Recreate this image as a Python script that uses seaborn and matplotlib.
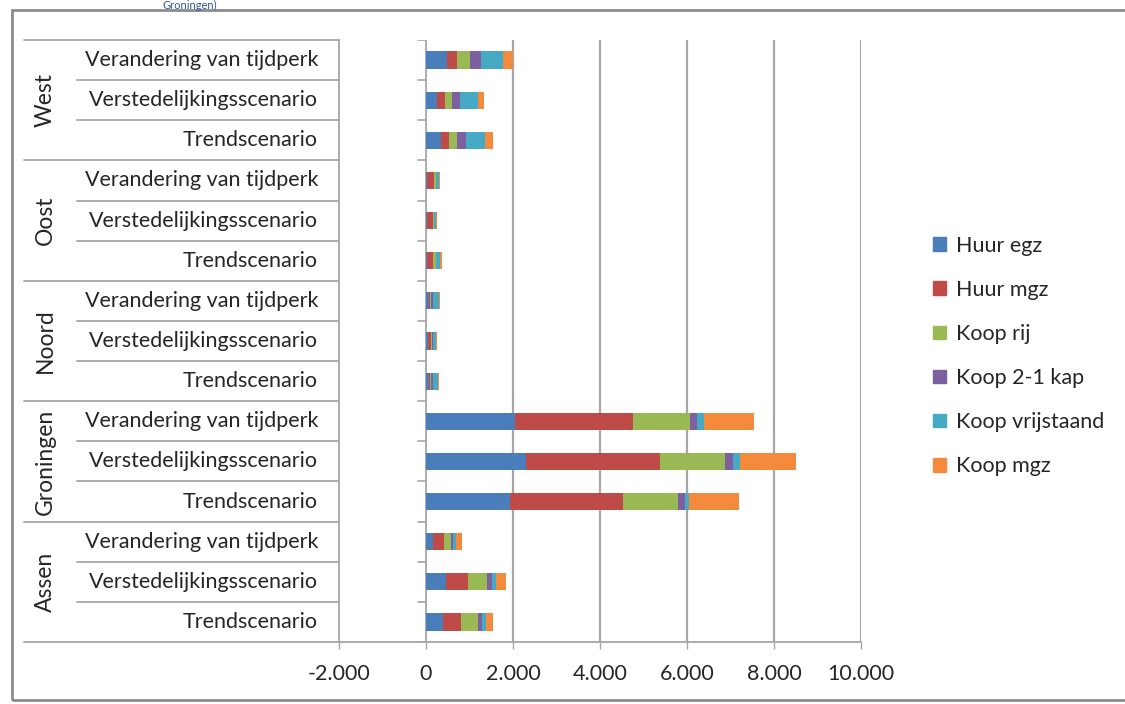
import numpy as np
import pandas as pd
import matplotlib
matplotlib.use("Agg")
import matplotlib.pyplot as plt
import matplotlib.patches as mpatches
from matplotlib.ticker import FuncFormatter
import seaborn as sns

# rows from top to bottom
regions = ["West", "Oost", "Noord", "Groningen", "Assen"]
scenarios = ["Verandering van tijdperk", "Verstedelijkingsscenario", "Trendscenario"]

series_names = ["Huur egz", "Huur mgz", "Koop rij", "Koop 2-1 kap", "Koop vrijstaand", "Koop mgz"]
colors = ["#4A7EBB", "#BE4B48", "#98B954", "#7D60A0", "#46AAC5", "#F38A3C"]

huur_egz = [480, 250, 340, 20, 20, 20, 60, 50, 60, 2050, 2310, 1940, 150, 460, 400]
huur_mgz = [230, 180, 180, 160, 140, 150, 40, 60, 40, 2700, 3070, 2580, 260, 500, 410]
koop_rij = [300, 170, 190, 40, 20, 50, 20, 20, 20, 1330, 1490, 1280, 160, 440, 380]
koop_21kap = [250, 180, 210, 20, 10, 20, 30, 30, 30, 150, 180, 150, 60, 110, 100]
koop_vrij = [520, 410, 430, 60, 50, 80, 150, 70, 130, 150, 160, 100, 50, 100, 100]
koop_mgz = [220, 150, 190, 15, 20, 50, 20, 15, 15, 1150, 1300, 1140, 140, 220, 160]

xticks = [-2000, 0, 2000, 4000, 6000, 8000, 10000]

row_keys = [f"{r}|{s}" for r in regions for s in scenarios]
df = pd.DataFrame({"row": row_keys, "Huur egz": huur_egz, "Huur mgz": huur_mgz,
                   "Koop rij": koop_rij, "Koop 2-1 kap": koop_21kap,
                   "Koop vrijstaand": koop_vrij, "Koop mgz": koop_mgz})

sns.set_theme(style="white")
plt.rcParams['font.family'] = ['Lato', 'DejaVu Sans']
line_col = "#A6A6A6"
text_col = "#262626"
fs = 15.5

fig = plt.figure(figsize=(11.25, 7.04), dpi=100)
ax = fig.add_axes([339 / 1125, 1 - 642 / 704, (861 - 339) / 1125, (642 - 40) / 704])

# stacked bars: draw cumulative sums, largest first
cum = df[series_names].cumsum(axis=1)
for name, col in reversed(list(zip(series_names, colors))):
    sns.barplot(x=cum[name], y=df["row"], order=row_keys, orient="h",
                color=col, width=0.43, saturation=1, linewidth=0, ax=ax, zorder=3)

ax.set_xlim(-2000, 10000)
ax.set_ylim(14.5, -0.5)
ax.set_xticks(xticks)
ax.xaxis.set_major_formatter(FuncFormatter(lambda v, p: f"{int(v):,}".replace(",", ".")))
ax.tick_params(axis="x", labelsize=fs, colors=text_col, length=5, width=1,
               color=line_col, pad=11, bottom=True)
ax.set_yticks([])
ax.set_xlabel("")
ax.set_ylabel("")

for sp in ["top", "right"]:
    ax.spines[sp].set_visible(False)
for sp in ["left", "bottom"]:
    ax.spines[sp].set_color(line_col)
    ax.spines[sp].set_linewidth(1.3)

# vertical gridlines and zero axis
for v in xticks[1:]:
    ax.axvline(v, color=line_col, lw=1.6 if v else 1.3, zorder=1)

# category ticks on the zero axis
for b in np.arange(-0.5, 15, 1):
    ax.plot([-190, 0], [b, b], color=line_col, lw=1.2, zorder=2)

# category table left of the plot
tr = ax.get_yaxis_transform()
for i, key in enumerate(row_keys):
    ax.text(-0.04, i, key.split("|")[1], transform=tr, ha="right", va="center",
            fontsize=fs, color=text_col)
for b in np.arange(-0.5, 15, 1):
    x0 = -0.603 if (b + 0.5) % 3 == 0 else -0.502
    ax.plot([x0, 0], [b, b], transform=tr, color=line_col, lw=1.3, clip_on=False)
for g, reg in enumerate(regions):
    ax.text(-0.563, g * 3 + 1, reg, transform=tr, ha="center", va="center",
            rotation=90, fontsize=16.5, color=text_col)

# legend
handles = [mpatches.Patch(color=c, label=n) for n, c in zip(series_names, colors)]
fig.legend(handles=handles, loc="center left", bbox_to_anchor=(914 / 1125, 1 - 356 / 704),
           frameon=False, fontsize=fs, handlelength=0.6, handleheight=0.6,
           handletextpad=0.45, labelspacing=1.12, labelcolor=text_col)

# outer border and caption remnant
fig.patches.append(mpatches.Rectangle((12 / 1125, 4 / 704), 1.05, 1 - 14 / 704,
                                      transform=fig.transFigure, fill=False,
                                      edgecolor="#8C8C8C", lw=2))
fig.text(190 / 1125, 1.0, "Groningen)", ha="center", va="top", fontsize=8,
         color="#2E5C9A")

fig.savefig("out.png", dpi=100)
